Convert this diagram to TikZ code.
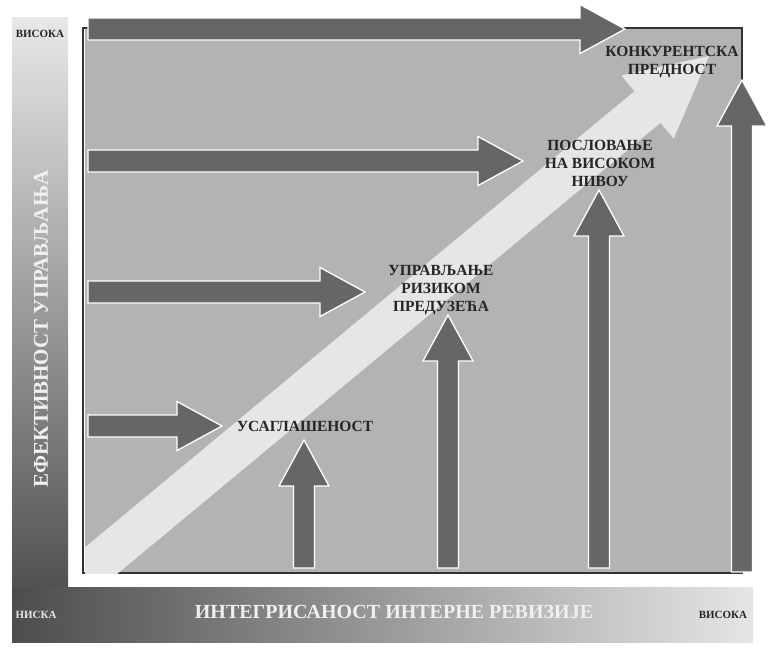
\documentclass[tikz,border=0pt]{standalone}
\usepackage{fontspec}
\setmainfont{Liberation Serif}
\usetikzlibrary{calc}
\definecolor{ploha}{HTML}{B3B3B3}
\definecolor{strelica}{HTML}{666666}
\definecolor{pojas}{HTML}{E6E6E6}
\definecolor{tamno}{HTML}{262626}
\definecolor{okvir}{HTML}{333333}
\tikzset{
  blok/.style={fill=strelica, draw=white, line width=1.3pt},
  oznaka/.style={font=\bfseries\fontsize{15.5}{18}\selectfont, text=tamno, align=center, inner sep=1pt},
  osa/.style={font=\bfseries\fontsize{20}{24}\selectfont, text=white!94!black, inner sep=0pt},
  nivo/.style={font=\bfseries\fontsize{11}{13}\selectfont, inner sep=0pt},
}

\begin{document}
\begin{tikzpicture}[x=1pt, y=-1pt]
    \useasboundingbox (0,0) rectangle (771,651);
    % axis bars
    \shade[top color=black!9, bottom color=black!68] (12,17) rectangle (68,587);
    \shade[left color=black!70, right color=black!10] (12,587) rectangle (753,642);
    % plot area
    \fill[ploha] (85,28) rectangle (742,573);
    \draw[okvir, line width=2pt] (83,28) rectangle (742,573);
    % diagonal band
    \begin{scope}
      \clip (85,28) rectangle (742,573);
      \fill[pojas, shift={(647.5,107)}, rotate=39.7]
        (-800,-20.5) -- (0,-20.5) -- (0,-41) -- (80,0) -- (0,41) -- (0,20.5) -- (-800,20.5) -- cycle;
    \end{scope}
    % horizontal arrows
    \foreach \tip/\y in {625/29, 523/161, 365/292, 222/426}
      \draw[blok] (88,\y-11) -- (\tip-45,\y-11) -- (\tip-45,\y-24.5) -- (\tip,\y)
        -- (\tip-45,\y+24.5) -- (\tip-45,\y+11) -- (88,\y+11) -- cycle;
    % vertical arrows
    \foreach \x/\tip/\dno in {304/440/568, 448/315/568, 599/190/568, 742/80/572}
      \draw[blok] (\x-10.5,\dno) -- (\x-10.5,\tip+46) -- (\x-25,\tip+46) -- (\x,\tip)
        -- (\x+25,\tip+46) -- (\x+10.5,\tip+46) -- (\x+10.5,\dno) -- cycle;
    % labels
    \node[oznaka] (usaglasenost) at (305,426) {УСАГЛАШЕНОСТ};
    \node[oznaka] (rizik) at (441,290) {УПРАВЉАЊЕ\\ РИЗИКОМ\\ ПРЕДУЗЕЋА};
    \node[oznaka] (poslovanje) at (600,163) {ПОСЛОВАЊЕ\\ НА ВИСОКОМ\\ НИВОУ};
    \node[oznaka] (prednost) at (672,62) {КОНКУРЕНТСКА\\ ПРЕДНОСТ};
    % axis texts
    \node[osa, rotate=90, font=\bfseries\fontsize{21}{24}\selectfont] (osaY) at (41,329) {ЕФЕКТИВНОСТ УПРАВЉАЊА};
    \node[osa] (osaX) at (394,612) {ИНТЕГРИСАНОСТ ИНТЕРНЕ РЕВИЗИЈЕ};
    \node[nivo, text=tamno] (visokaY) at (40,34) {ВИСОКА};
    \node[nivo, text=white!90!black] (niska) at (36,615) {НИСКА};
    \node[nivo, text=tamno] (visokaX) at (723,615) {ВИСОКА};
  \end{tikzpicture}
\end{document}
